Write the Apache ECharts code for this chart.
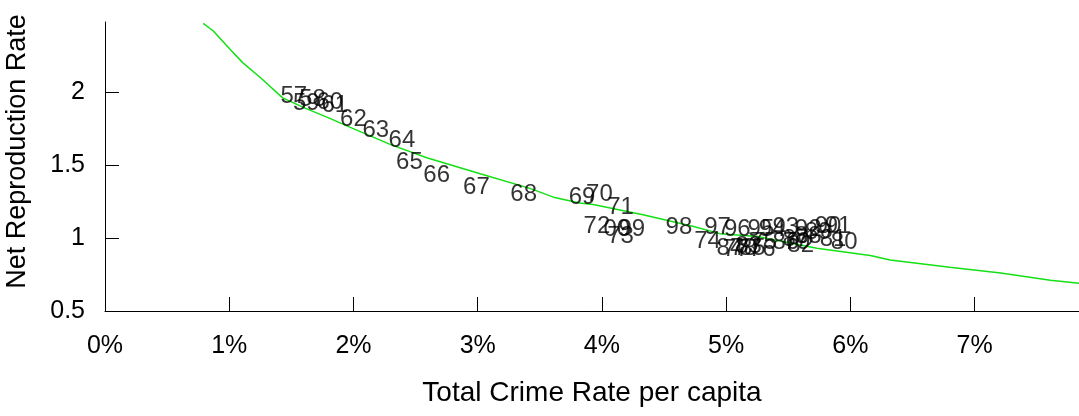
<!DOCTYPE html>
<html>
<head>
<meta charset="utf-8">
<script src="https://cdn.jsdelivr.net/npm/echarts@6/dist/echarts.min.js"></script>
<style>
  html, body { margin: 0; padding: 0; background: #fff; }
  #chart { width: 1079px; height: 416px; }
</style>
</head>
<body>
<div id="chart"></div>
<script>
// Year labels (two-digit) for each observation
const years = ['57','58','59','60','61','62','63','64','65','66','67','68','69','70',
  '71','72','73','74','75','76','77','78','79','80','81','82','83','84','85','86',
  '87','88','89','90','91','92','93','94','95','96','97','98','99','00'];

// Total crime rate per capita, in percent
const crimeRate = [1.52,1.67,1.62,1.81,1.85,2.00,2.18,2.39,2.45,2.67,2.99,3.37,3.84,3.98,
  4.15,3.96,4.15,4.85,5.30,5.29,5.08,5.14,5.57,5.95,5.86,5.60,5.18,5.03,5.21,5.48,
  5.56,5.66,5.74,5.82,5.90,5.66,5.48,5.37,5.28,5.09,4.93,4.62,4.24,4.12];

// Net reproduction rate
const netRepro = [1.97,1.95,1.92,1.93,1.91,1.81,1.74,1.67,1.52,1.43,1.35,1.30,1.28,1.30,
  1.21,1.08,1.01,0.98,0.97,0.92,0.92,0.93,0.97,0.97,0.99,0.95,0.94,0.93,0.93,0.97,
  0.99,1.01,1.04,1.08,1.08,1.06,1.07,1.06,1.06,1.06,1.07,1.07,1.06,1.06];

// Smoothed trend: crime rate (%) and fitted net reproduction rate
const trendX = [0.79,0.87,1.01,1.11,1.25,1.43,1.61,1.81,1.97,2.30,2.59,3.02,3.42,3.61,
  3.82,3.93,4.33,4.73,4.95,5.25,5.73,6.16,6.32,6.80,7.21,7.61,7.84];
const trendY = [2.47,2.42,2.29,2.20,2.10,1.96,1.89,1.82,1.76,1.64,1.55,1.44,1.34,1.28,
  1.24,1.23,1.16,1.08,1.03,1.01,0.93,0.88,0.85,0.80,0.76,0.71,0.69];

const xTicks = [0,1,2,3,4,5,6,7];
const yTicks = [0.5,1,1.5,2];

const font = 'Liberation Sans, Arial, Helvetica, sans-serif';

const chart = echarts.init(document.getElementById('chart'), null, { renderer: 'canvas' });

chart.setOption({
  animation: false,
  backgroundColor: '#ffffff',
  grid: { left: 105, right: 0, top: 22, bottom: 105, containLabel: false,
    outerBoundsMode: 'none' },
  xAxis: {
    type: 'value',
    min: 0, max: 7.84, interval: 1,
    name: 'Total Crime Rate per capita',
    nameLocation: 'middle',
    nameGap: 68,
    nameTextStyle: { fontFamily: font, fontSize: 28, color: '#000' },
    axisLine: { show: true, onZero: false, lineStyle: { color: '#000', width: 1 } },
    axisTick: { show: true, inside: true, length: 14, customValues: xTicks.slice(1),
      lineStyle: { color: '#000', width: 1 } },
    axisLabel: { show: true, margin: 23, customValues: xTicks,
      fontFamily: font, fontSize: 25, color: '#000',
      formatter: v => (xTicks.indexOf(v) >= 0 ? v + '%' : '') },
    splitLine: { show: false }
  },
  yAxis: {
    type: 'value',
    min: 0.5, max: 2.48, interval: 0.5,
    name: 'Net Reproduction Rate',
    nameLocation: 'middle',
    nameRotate: 90,
    nameGap: 74,
    nameTextStyle: { fontFamily: font, fontSize: 27, color: '#000',
      padding: [0, 0, 0, 30] },
    axisLine: { show: true, onZero: false, lineStyle: { color: '#000', width: 1 } },
    axisTick: { show: true, inside: true, length: 14, customValues: yTicks,
      lineStyle: { color: '#000', width: 1 } },
    axisLabel: { show: true, margin: 20, customValues: yTicks,
      fontFamily: font, fontSize: 25, color: '#000',
      formatter: v => (yTicks.indexOf(v) >= 0 ? String(v) : '') },
    splitLine: { show: false }
  },
  series: [
    {
      type: 'line',
      data: trendX.map((x, i) => [x, trendY[i]]),
      showSymbol: false,
      smooth: false,
      lineStyle: { color: '#14e014', width: 1.5 },
      z: 2
    },
    {
      type: 'scatter',
      data: crimeRate.map((x, i) => ({ value: [x, netRepro[i]], name: years[i] })),
      symbolSize: 1,
      itemStyle: { color: 'rgba(0,0,0,0)' },
      label: {
        show: true,
        position: 'inside',
        formatter: p => p.name,
        fontFamily: font,
        fontSize: 24,
        color: '#000'
      },
      z: 3
    }
  ]
});
</script>
</body>
</html>
